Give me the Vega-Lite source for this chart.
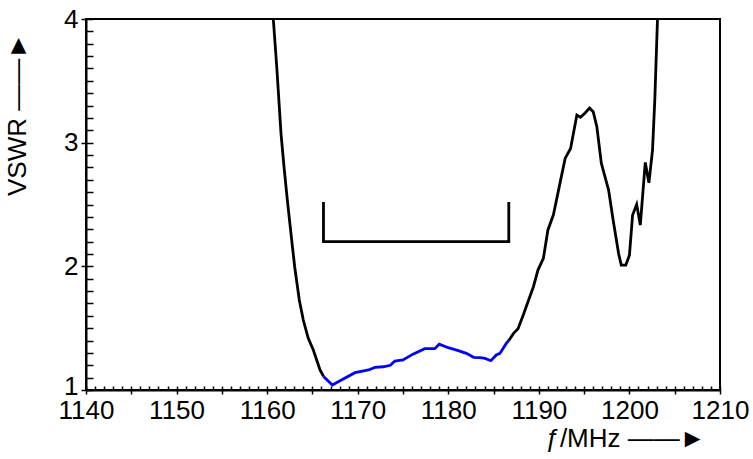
{
  "$schema": "https://vega.github.io/schema/vega-lite/v6.json",
  "width": 634,
  "height": 371,
  "autosize": {"type": "none"},
  "padding": {"left": 86, "top": 19, "right": 33, "bottom": 69},
  "background": "white",
  "datasets": {
    "vswr": [
      {"f": 1160.68, "v": 4.0, "seg": "low"},
      {"f": 1161.06, "v": 3.614, "seg": "low"},
      {"f": 1161.53, "v": 3.076, "seg": "low"},
      {"f": 1161.86, "v": 2.806, "seg": "low"},
      {"f": 1162.23, "v": 2.536, "seg": "low"},
      {"f": 1162.75, "v": 2.186, "seg": "low"},
      {"f": 1163.04, "v": 1.997, "seg": "low"},
      {"f": 1163.55, "v": 1.728, "seg": "low"},
      {"f": 1163.99, "v": 1.566, "seg": "low"},
      {"f": 1164.54, "v": 1.418, "seg": "low"},
      {"f": 1165.1, "v": 1.323, "seg": "low"},
      {"f": 1165.84, "v": 1.162, "seg": "low"},
      {"f": 1166.22, "v": 1.11, "seg": "low"},
      {"f": 1166.22, "v": 1.11, "seg": "band"},
      {"f": 1167.2, "v": 1.04, "seg": "band"},
      {"f": 1168.0, "v": 1.073, "seg": "band"},
      {"f": 1169.7, "v": 1.14, "seg": "band"},
      {"f": 1171.2, "v": 1.162, "seg": "band"},
      {"f": 1171.9, "v": 1.183, "seg": "band"},
      {"f": 1172.8, "v": 1.188, "seg": "band"},
      {"f": 1173.6, "v": 1.2, "seg": "band"},
      {"f": 1174.1, "v": 1.234, "seg": "band"},
      {"f": 1175.0, "v": 1.243, "seg": "band"},
      {"f": 1176.1, "v": 1.29, "seg": "band"},
      {"f": 1177.4, "v": 1.334, "seg": "band"},
      {"f": 1178.5, "v": 1.334, "seg": "band"},
      {"f": 1179.0, "v": 1.37, "seg": "band"},
      {"f": 1180.0, "v": 1.342, "seg": "band"},
      {"f": 1181.1, "v": 1.318, "seg": "band"},
      {"f": 1182.0, "v": 1.296, "seg": "band"},
      {"f": 1182.8, "v": 1.264, "seg": "band"},
      {"f": 1183.5, "v": 1.261, "seg": "band"},
      {"f": 1184.05, "v": 1.256, "seg": "band"},
      {"f": 1184.7, "v": 1.237, "seg": "band"},
      {"f": 1185.3, "v": 1.283, "seg": "band"},
      {"f": 1185.7, "v": 1.296, "seg": "band"},
      {"f": 1186.4, "v": 1.377, "seg": "band"},
      {"f": 1186.68, "v": 1.4, "seg": "band"},
      {"f": 1186.68, "v": 1.4, "seg": "high"},
      {"f": 1187.2, "v": 1.458, "seg": "high"},
      {"f": 1187.7, "v": 1.495, "seg": "high"},
      {"f": 1188.3, "v": 1.61, "seg": "high"},
      {"f": 1188.8, "v": 1.714, "seg": "high"},
      {"f": 1189.4, "v": 1.835, "seg": "high"},
      {"f": 1189.9, "v": 1.97, "seg": "high"},
      {"f": 1190.5, "v": 2.065, "seg": "high"},
      {"f": 1191.0, "v": 2.294, "seg": "high"},
      {"f": 1191.6, "v": 2.415, "seg": "high"},
      {"f": 1192.1, "v": 2.59, "seg": "high"},
      {"f": 1192.9, "v": 2.873, "seg": "high"},
      {"f": 1193.5, "v": 2.953, "seg": "high"},
      {"f": 1194.2, "v": 3.224, "seg": "high"},
      {"f": 1194.6, "v": 3.205, "seg": "high"},
      {"f": 1195.1, "v": 3.24, "seg": "high"},
      {"f": 1195.6, "v": 3.28, "seg": "high"},
      {"f": 1196.0, "v": 3.25, "seg": "high"},
      {"f": 1196.4, "v": 3.13, "seg": "high"},
      {"f": 1196.9, "v": 2.833, "seg": "high"},
      {"f": 1197.7, "v": 2.617, "seg": "high"},
      {"f": 1198.2, "v": 2.375, "seg": "high"},
      {"f": 1198.8, "v": 2.105, "seg": "high"},
      {"f": 1199.1, "v": 2.01, "seg": "high"},
      {"f": 1199.6, "v": 2.01, "seg": "high"},
      {"f": 1200.0, "v": 2.09, "seg": "high"},
      {"f": 1200.35, "v": 2.415, "seg": "high"},
      {"f": 1200.8, "v": 2.5, "seg": "high"},
      {"f": 1201.2, "v": 2.334, "seg": "high"},
      {"f": 1201.75, "v": 2.84, "seg": "high"},
      {"f": 1202.15, "v": 2.676, "seg": "high"},
      {"f": 1202.55, "v": 2.94, "seg": "high"},
      {"f": 1202.8, "v": 3.345, "seg": "high"},
      {"f": 1203.1, "v": 4.0, "seg": "high"}
    ],
    "bracket": [
      {"f": 1166.22, "v": 2.52, "k": 0},
      {"f": 1166.22, "v": 2.2, "k": 1},
      {"f": 1186.68, "v": 2.2, "k": 2},
      {"f": 1186.68, "v": 2.52, "k": 3}
    ]
  },
  "layer": [
    {
      "data": {"name": "vswr"},
      "mark": {"type": "line", "strokeWidth": 2.8, "clip": true},
      "encoding": {
        "x": {
          "field": "f",
          "type": "quantitative",
          "scale": {"domain": [1140, 1210], "nice": false, "zero": false},
          "axis": {
            "orient": "bottom",
            "values": [1140, 1145, 1150, 1155, 1160, 1165, 1170, 1175, 1180, 1185, 1190, 1195, 1200, 1205, 1210],
            "format": "d",
            "labelExpr": "datum.value % 10 == 0 ? datum.label : ''",
            "tickSize": 4,
            "labelPadding": 3,
            "title": "ƒ/MHz ——►",
            "titleX": 619,
            "titleY": 48,
            "titleAlign": "right",
            "titleBaseline": "middle"
          }
        },
        "y": {
          "field": "v",
          "type": "quantitative",
          "scale": {"domain": [1, 4], "nice": false, "zero": false},
          "axis": {
            "orient": "left",
            "values": [1, 1.5, 2, 2.5, 3, 3.5, 4],
            "format": "d",
            "labelExpr": "datum.value % 1 == 0 ? datum.label : ''",
            "labelOffset": {"condition": {"test": "datum.value == 1", "value": -4}, "value": 0},
            "tickSize": 5,
            "labelPadding": 3,
            "title": "VSWR ——►",
            "titleAngle": -90,
            "titleX": -69,
            "titleY": 95,
            "titleAlign": "center",
            "titleBaseline": "middle"
          }
        },
        "color": {
          "field": "seg",
          "type": "nominal",
          "scale": {"domain": ["low", "band", "high"], "range": ["#000000", "#0000ff", "#000000"]},
          "legend": null
        }
      }
    },
    {
      "data": {"name": "bracket"},
      "mark": {"type": "line", "strokeWidth": 2.8, "color": "#000000"},
      "encoding": {
        "x": {
          "field": "f",
          "type": "quantitative",
          "axis": {
            "orient": "bottom",
            "values": [1140, 1141, 1142, 1143, 1144, 1145, 1146, 1147, 1148, 1149, 1150, 1151, 1152, 1153, 1154, 1155, 1156, 1157, 1158, 1159, 1160, 1161, 1162, 1163, 1164, 1165, 1166, 1167, 1168, 1169, 1170, 1171, 1172, 1173, 1174, 1175, 1176, 1177, 1178, 1179, 1180, 1181, 1182, 1183, 1184, 1185, 1186, 1187, 1188, 1189, 1190, 1191, 1192, 1193, 1194, 1195, 1196, 1197, 1198, 1199, 1200, 1201, 1202, 1203, 1204, 1205, 1206, 1207, 1208, 1209, 1210],
            "tickSize": -4,
            "labels": false,
            "domain": false,
            "title": null
          }
        },
        "y": {
          "field": "v",
          "type": "quantitative",
          "axis": {
            "orient": "left",
            "values": [1, 1.1, 1.2, 1.3, 1.4, 1.5, 1.6, 1.7, 1.8, 1.9, 2, 2.1, 2.2, 2.3, 2.4, 2.5, 2.6, 2.7, 2.8, 2.9, 3, 3.1, 3.2, 3.3, 3.4, 3.5, 3.6, 3.7, 3.8, 3.9, 4],
            "tickSize": -7,
            "labels": false,
            "domain": false,
            "title": null
          }
        },
        "order": {"field": "k", "type": "quantitative"}
      }
    }
  ],
  "resolve": {"axis": {"x": "independent", "y": "independent"}},
  "config": {
    "view": {"stroke": "#000000", "strokeWidth": 2},
    "axis": {
      "grid": false,
      "domainColor": "#000000",
      "domainWidth": 2,
      "tickColor": "#000000",
      "tickWidth": 1.5,
      "labelFont": "Liberation Sans",
      "labelFontSize": 26,
      "labelColor": "#000000",
      "labelFlush": false,
      "labelOverlap": false,
      "labelBound": false,
      "titleFont": "Liberation Sans",
      "titleFontSize": 26,
      "titleFontWeight": "normal",
      "titleColor": "#000000"
    }
  }
}
